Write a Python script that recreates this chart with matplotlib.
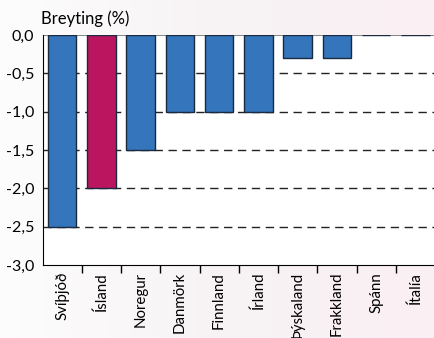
import matplotlib
matplotlib.use("Agg")
import matplotlib.pyplot as plt
import numpy as np
from matplotlib.colors import LinearSegmentedColormap

plt.rcParams['font.family'] = ['Lato', 'DejaVu Sans']

countries = ["Svíþjóð", "Ísland", "Noregur", "Danmörk", "Finnland",
             "Írland", "Þýskaland", "Frakkland", "Spánn", "Ítalía"]
change = [-2.5, -2.0, -1.5, -1.0, -1.0, -1.0, -0.3, -0.3, 0.0, 0.0]
highlight = "Ísland"
yticks = [0.0, -0.5, -1.0, -1.5, -2.0, -2.5, -3.0]
ytick_labels = ["0,0", "-0,5", "-1,0", "-1,5", "-2,0", "-2,5", "-3,0"]

blue = "#3575bb"
magenta = "#bb1560"

fig = plt.figure(figsize=(4.35, 3.38), dpi=100, facecolor="white")

# soft left-to-right background wash
bg_ax = fig.add_axes([0, 0, 1, 1], zorder=-10)
wash = LinearSegmentedColormap.from_list("wash", ["#fdfdfd", "#f7f3f5", "#fbeff3"])
bg_ax.imshow(np.linspace(0, 1, 256)[None, :], aspect="auto", cmap=wash,
             extent=[0, 1, 0, 1])
bg_ax.set_axis_off()

ax = fig.add_axes([42.5 / 435, 1 - 265 / 338, (435 - 42.5) / 435, (265 - 35) / 338])
ax.set_facecolor("white")

x = np.arange(len(countries))
colors = [magenta if c == highlight else blue for c in countries]

for yv in yticks[1:-1]:
    ax.axhline(yv, color="#222222", lw=1.0, ls=(0, (6, 4)), zorder=1)
ax.axhline(0, color="#8a8a8a", lw=1.5, zorder=1)

ax.bar(x, change, width=0.72, color=colors, edgecolor="#1a2a40", linewidth=1.0, zorder=2)

ax.set_xlim(-0.5, len(countries) - 0.5)
ax.set_ylim(-3.0, 0.0)

ax.set_yticks(yticks)
ax.set_yticklabels(ytick_labels, fontsize=11.5)
ax.tick_params(axis="y", length=0, pad=6, colors="black")

ax.set_xticks(x)
ax.set_xticklabels(countries, rotation=90, fontsize=10.8)
ax.tick_params(axis="x", length=0, pad=5)
ax.set_xticks(np.arange(len(countries) - 1) + 0.5, minor=True)
ax.tick_params(axis="x", which="minor", length=6, width=1.0, direction="out", color="black")

for s in ["top", "right"]:
    ax.spines[s].set_visible(False)
ax.spines["left"].set_color("black")
ax.spines["bottom"].set_color("black")

fig.text(41 / 435, 1 - 19 / 338, "Breyting (%)", fontsize=12, va="center", ha="left")

fig.savefig("out.png", dpi=100)
